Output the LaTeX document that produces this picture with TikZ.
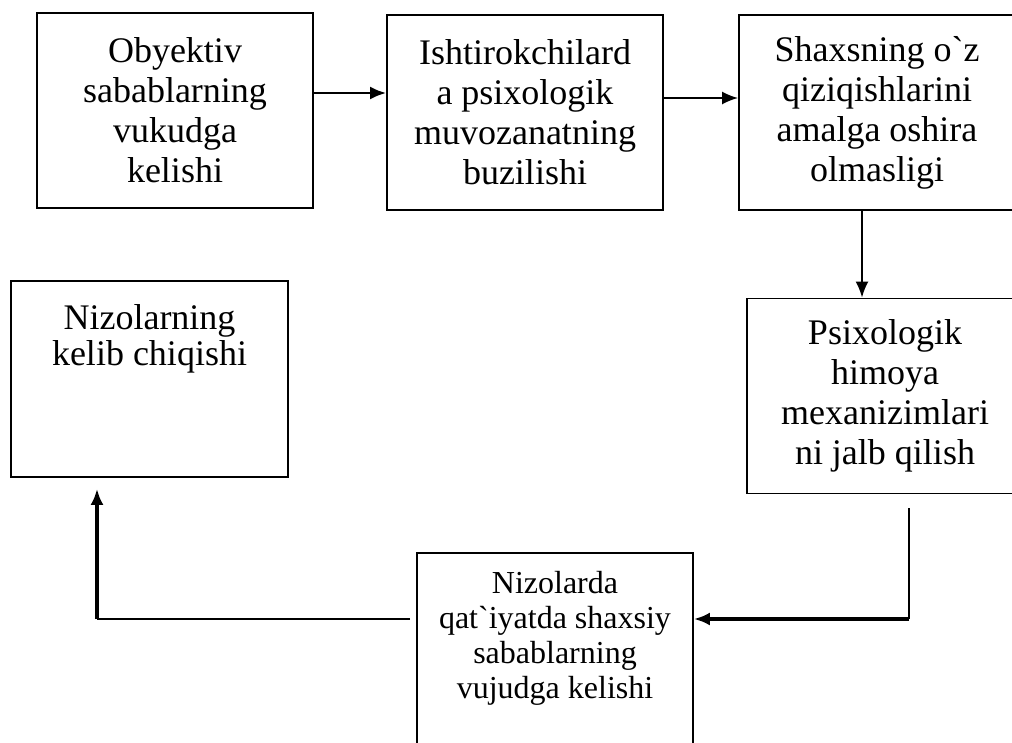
\documentclass[tikz,border=0pt]{standalone}
\usepackage{fontspec}
\setmainfont{Liberation Serif}
\usetikzlibrary{arrows.meta, positioning}

\begin{document}
\begin{tikzpicture}[x=1pt, y=-1pt,
    % Define the styles for boxes and arrows
    box/.style={draw, line width=1.8pt, minimum width=276pt, minimum height=195pt,
        inner sep=0pt, align=center, font=\fontsize{36}{40}\selectfont},
    boxtext/.style={inner sep=0pt, align=center},
    arr/.style={-{Latex[length=16pt,width=13pt]}, line width=2pt}
]
\useasboundingbox (0,0) rectangle (1012,742);

% Top row of boxes
\node[box] (obyektiv) at (175,110.5) {Obyektiv\\sabablarning\\vukudga\\kelishi};
\node[box] (ishtirok) at (525,112.5) {Ishtirokchilard\\a psixologik\\muvozanatning\\buzilishi};
\node[box] (shaxs) at (877,112.5) {Shaxsning o\textasciigrave z\\qiziqishlarini\\amalga oshira\\olmasligi};

% Right and lower boxes
\node[box] (himoya) at (885,396) {Psixologik\\himoya\\mexanizimlari\\ni jalb qilish};
\node[box, minimum width=277pt, minimum height=196pt] (chiqish) at (149.5,379) {};
\node[boxtext, font=\fontsize{36}{36.5}\selectfont, below=24pt of chiqish.north] (chiqishtext)
    {Nizolarning\\kelib chiqishi};
\node[box] (sabab) at (555,650.5) {};
\node[boxtext, font=\fontsize{32}{35}\selectfont, below=19pt of sabab.north] (sababtext)
    {Nizolarda\\qat\textasciigrave iyatda shaxsiy\\sabablarning\\vujudga kelishi};

% Arrows in the top row
\coordinate (r1) at (0,93);
\coordinate (r2) at (0,98);
\draw[arr, line width=2.4pt] (obyektiv.east |- r1) -- (ishtirok.west |- r1);
\draw[arr] (ishtirok.east |- r2) -- (shaxs.west |- r2);

% Arrow down on the right
\coordinate (d1) at (862,0);
\draw[arr] (shaxs.south -| d1) -- (himoya.north -| d1);

% Lines round the bottom
\coordinate (p1) at (909,508);
\coordinate (p2) at (909,619);
\draw[line width=2.2pt] (p1) -- (p2);
\draw[arr, line width=3.2pt] (p2) -- (sabab.east |- p2);

\coordinate (q1) at (410,619);
\coordinate (q2) at (97,619);
\draw[line width=1.6pt] (q1) -- (q2);
\draw[arr, line width=3.2pt, shorten >=11pt] (q2) -- (q2 |- chiqish.south);

\end{tikzpicture}
\end{document}
